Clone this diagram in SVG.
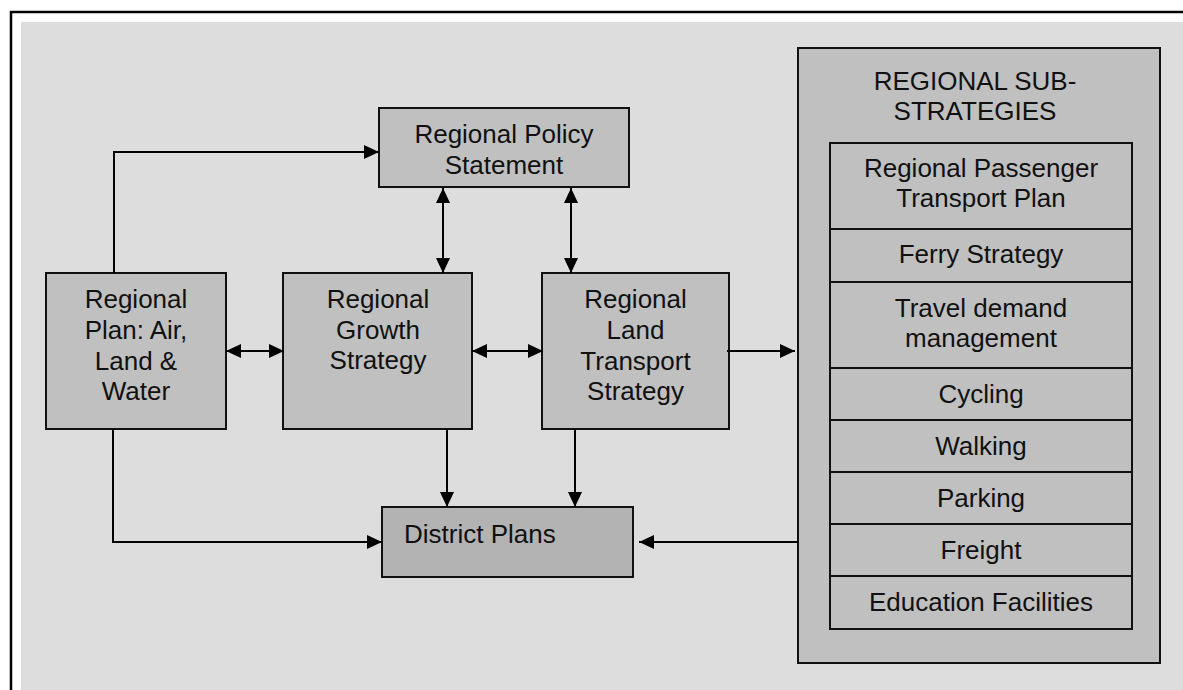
<svg xmlns="http://www.w3.org/2000/svg" width="1183" height="690" viewBox="0 0 1183 690">
<style>
  .box { fill: #c0c0c0; stroke: #111; stroke-width: 2; }
  .dist { fill: #b3b3b3; stroke: #111; stroke-width: 2; }
  .row { fill: #c0c0c0; stroke: #111; stroke-width: 2; }
  .t { font-family: "Liberation Sans", Arial, sans-serif; font-size: 26px; fill: #111; text-anchor: middle; }
  .tl { font-family: "Liberation Sans", Arial, sans-serif; font-size: 26px; fill: #111; }
  .c { fill: none; stroke: #000; stroke-width: 2; }
</style>
<defs>
  <marker id="ah" markerUnits="userSpaceOnUse" markerWidth="15" markerHeight="14" refX="15" refY="7" orient="auto-start-reverse">
    <path d="M0,0 L15,7 L0,14 z" fill="#000"/>
  </marker>
</defs>
<rect x="0" y="0" width="1183" height="690" fill="#fff"/>
<rect x="11" y="12" width="1200" height="700" fill="#fff" stroke="#000" stroke-width="2.5"/>
<rect x="21" y="22" width="1162" height="668" fill="#dddddd"/>

<g id="policy">
  <rect class="box" x="379" y="108" width="250" height="79"/>
  <text class="t" x="504" y="143">Regional Policy</text>
  <text class="t" x="504" y="174">Statement</text>
</g>
<g id="plan">
  <rect class="box" x="46" y="273" width="180" height="156"/>
  <text class="t" x="136" y="308">Regional</text>
  <text class="t" x="136" y="339">Plan: Air,</text>
  <text class="t" x="136" y="370">Land &amp;</text>
  <text class="t" x="136" y="400">Water</text>
</g>
<g id="growth">
  <rect class="box" x="283" y="273" width="189" height="156"/>
  <text class="t" x="378" y="308">Regional</text>
  <text class="t" x="378" y="339">Growth</text>
  <text class="t" x="378" y="369">Strategy</text>
</g>
<g id="transport">
  <rect class="box" x="542" y="273" width="187" height="156"/>
  <text class="t" x="635.5" y="308">Regional</text>
  <text class="t" x="635.5" y="339">Land</text>
  <text class="t" x="635.5" y="370">Transport</text>
  <text class="t" x="635.5" y="400">Strategy</text>
</g>
<g id="district">
  <rect class="dist" x="382" y="507" width="251" height="70"/>
  <text class="tl" x="404" y="543">District Plans</text>
</g>
<g id="substrategies">
  <rect class="box" x="798" y="48" width="362" height="615"/>
  <text class="t" x="975" y="90">REGIONAL SUB-</text>
  <text class="t" x="975" y="120">STRATEGIES</text>
  <g id="rpt">
    <rect class="row" x="830" y="143" width="302" height="86"/>
    <text class="t" x="981" y="177">Regional Passenger</text>
    <text class="t" x="981" y="207">Transport Plan</text>
  </g>
  <g id="ferry">
    <rect class="row" x="830" y="229" width="302" height="53"/>
    <text class="t" x="981" y="263">Ferry Strategy</text>
  </g>
  <g id="tdm">
    <rect class="row" x="830" y="282" width="302" height="86"/>
    <text class="t" x="981" y="317">Travel demand</text>
    <text class="t" x="981" y="347">management</text>
  </g>
  <g id="cycling">
    <rect class="row" x="830" y="368" width="302" height="52"/>
    <text class="t" x="981" y="403">Cycling</text>
  </g>
  <g id="walking">
    <rect class="row" x="830" y="420" width="302" height="52"/>
    <text class="t" x="981" y="455">Walking</text>
  </g>
  <g id="parking">
    <rect class="row" x="830" y="472" width="302" height="52"/>
    <text class="t" x="981" y="507">Parking</text>
  </g>
  <g id="freight">
    <rect class="row" x="830" y="524" width="302" height="52"/>
    <text class="t" x="981" y="559">Freight</text>
  </g>
  <g id="education">
    <rect class="row" x="830" y="576" width="302" height="53"/>
    <text class="t" x="981" y="611">Education Facilities</text>
  </g>
</g>

<g id="connectors">
  <path class="c" d="M114,273 V152 H379" marker-end="url(#ah)"/>
  <path class="c" d="M443,188 V273" marker-start="url(#ah)" marker-end="url(#ah)"/>
  <path class="c" d="M571,188 V273" marker-start="url(#ah)" marker-end="url(#ah)"/>
  <path class="c" d="M226,351 H284" marker-start="url(#ah)" marker-end="url(#ah)"/>
  <path class="c" d="M472,351 H543" marker-start="url(#ah)" marker-end="url(#ah)"/>
  <path class="c" d="M727,351 H795" marker-end="url(#ah)"/>
  <path class="c" d="M447,430 V507" marker-end="url(#ah)"/>
  <path class="c" d="M575,430 V507" marker-end="url(#ah)"/>
  <path class="c" d="M113,430 V542 H382" marker-end="url(#ah)"/>
  <path class="c" d="M798,542 H639" marker-end="url(#ah)"/>
</g>
</svg>
